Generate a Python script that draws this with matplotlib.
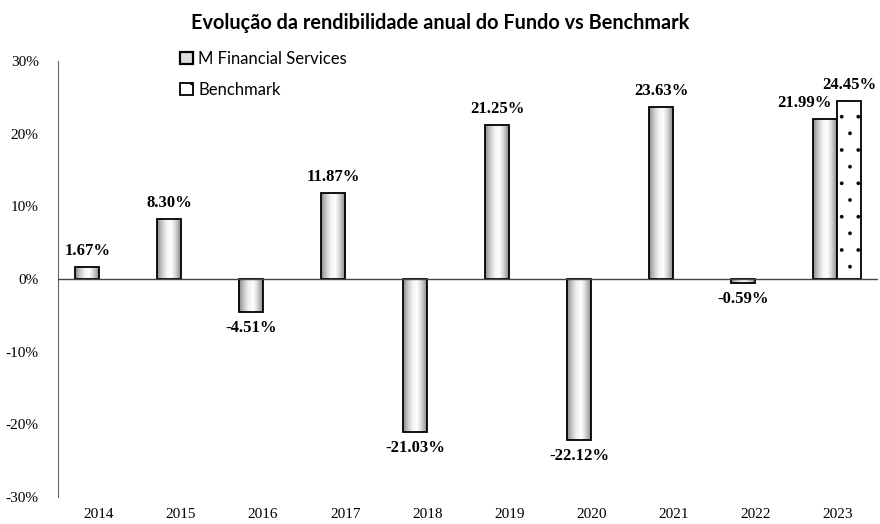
import numpy as np
import matplotlib
matplotlib.use("Agg")
import matplotlib.pyplot as plt
from matplotlib.colors import LinearSegmentedColormap
from matplotlib.patches import Rectangle

years = ["2014", "2015", "2016", "2017", "2018", "2019", "2020", "2021", "2022", "2023"]
fund = [1.67, 8.30, -4.51, 11.87, -21.03, 21.25, -22.12, 23.63, -0.59, 21.99]
bench = [np.nan] * 9 + [24.45]
series_names = ["M Financial Services", "Benchmark"]
title = "Evolução da rendibilidade anual do Fundo vs Benchmark"

plt.rcParams["hatch.linewidth"] = 0.25
plt.rcParams["hatch.color"] = "#333333"

fig = plt.figure(figsize=(8.8, 5.24), dpi=100)
ax = fig.add_axes([0.066, 0.0515, 0.932, 0.832])

x = np.arange(len(years))
w = 0.29
grad = LinearSegmentedColormap.from_list("g", ["#8a8a8a", "#c8c8c8", "#f2f2f2", "#ffffff", "#d0d0d0", "#8a8a8a"])
gimg = np.linspace(0, 1, 64).reshape(1, -1)

fbars = ax.bar(x - w / 2, fund, w, facecolor="none", edgecolor="black", linewidth=1.3, zorder=3)
for b in fbars:
    x0, y0 = b.get_x(), b.get_y()
    bw, bh = b.get_width(), b.get_height()
    im = ax.imshow(gimg, cmap=grad, aspect="auto", extent=(x0, x0 + bw, y0, y0 + bh), zorder=2,
                   interpolation="bilinear")
    im.set_clip_path(b)

bbars = ax.bar(x + w / 2, bench, w, facecolor="white", edgecolor="black", linewidth=1.3,
               hatch=".", zorder=3)

ax.set_xlim(-0.5, len(years) - 0.5)
ax.set_ylim(-30, 30)
ax.set_yticks(np.arange(-30, 31, 10))
ax.set_yticklabels([f"{v}%" for v in range(-30, 31, 10)], fontfamily="Liberation Serif", fontsize=11)
ax.set_xticks(x)
ax.set_xticklabels(years, fontfamily="Liberation Serif", fontsize=11)
ax.tick_params(axis="both", length=0, pad=8)
ax.tick_params(axis="y", pad=14)
for s in ["top", "right", "bottom"]:
    ax.spines[s].set_visible(False)
ax.spines["left"].set_color("#666666")
ax.axhline(0, color="#444444", linewidth=1.0, zorder=4)

lab_font = dict(fontfamily="Liberation Serif", fontsize=12, fontweight="bold")
for i, v in enumerate(fund):
    xc = x[i] - w / 2
    dx = -0.26 if not np.isnan(bench[i]) else 0
    if v >= 0:
        ax.annotate(f"{v:.2f}%", (xc, v), xytext=(dx * 82, 8), textcoords="offset pixels",
                    ha="center", va="bottom", **lab_font)
    else:
        ax.annotate(f"{v:.2f}%", (xc, v), xytext=(0, -8), textcoords="offset pixels",
                    ha="center", va="top", **lab_font)
for i, v in enumerate(bench):
    if np.isnan(v):
        continue
    ax.annotate(f"{v:.2f}%", (x[i] + w / 2, v), xytext=(0, 8), textcoords="offset pixels",
                ha="center", va="bottom", **lab_font)

fig.suptitle(title, y=0.975, fontsize=14.3, fontweight="bold", fontfamily="Lato")

h1 = Rectangle((0, 0), 1, 1, facecolor="#dcdcdc", edgecolor="black", linewidth=1.6)
h2 = Rectangle((0, 0), 1, 1, facecolor="white", edgecolor="black", linewidth=1.3, hatch=".")
leg = ax.legend([h1, h2], series_names, loc="upper left", bbox_to_anchor=(0.13, 1.058),
                frameon=False, handlelength=0.8, handleheight=0.8, handletextpad=0.3,
                labelspacing=0.9, prop={"family": "Lato", "size": 12})

fig.savefig("out.png", dpi=100)
